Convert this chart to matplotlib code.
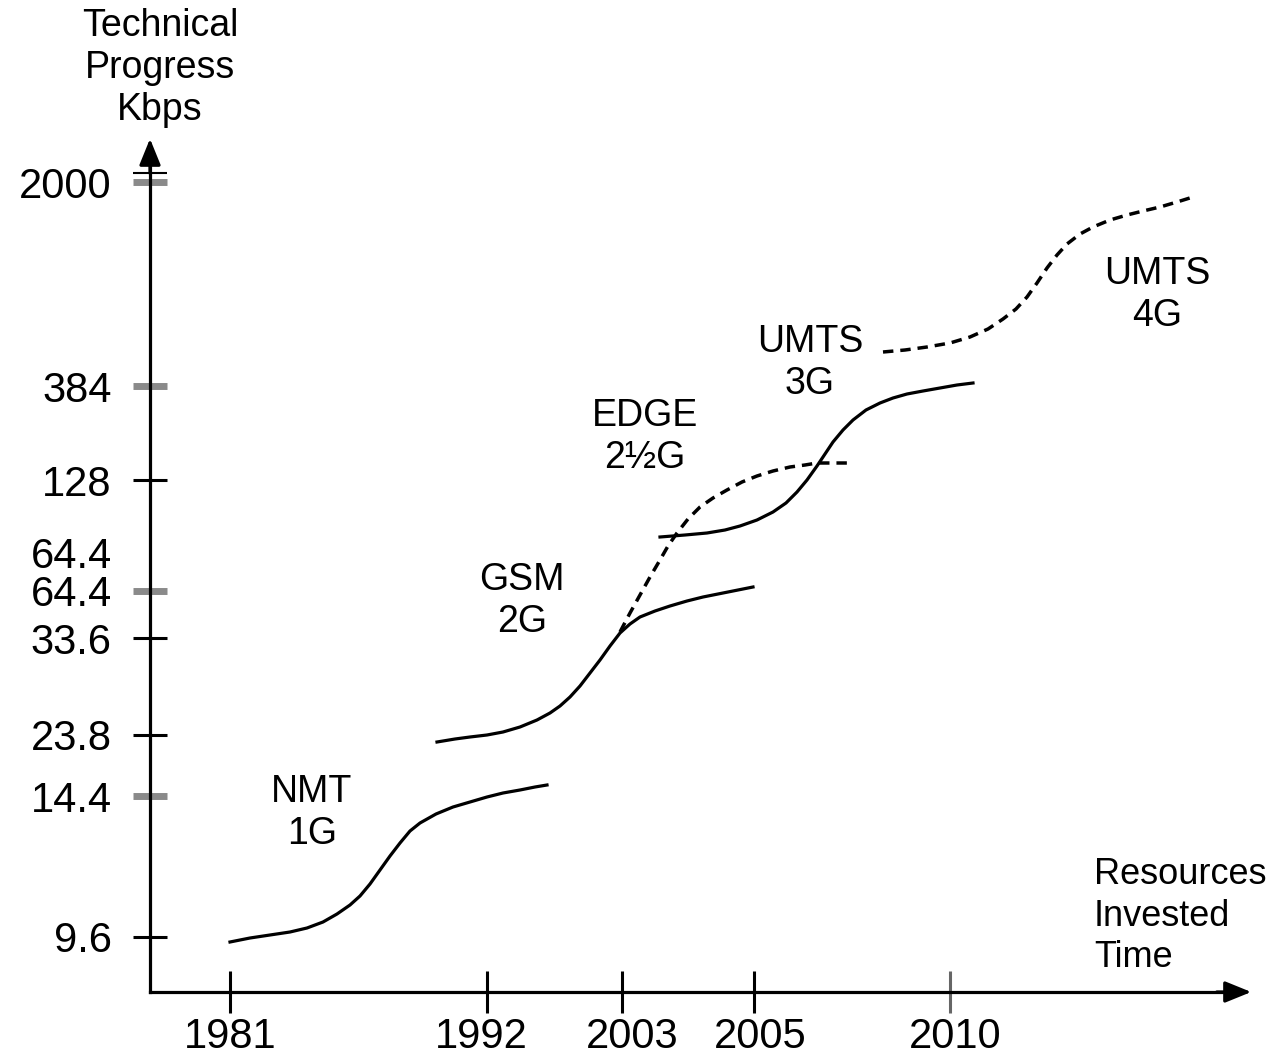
import matplotlib
matplotlib.use("Agg")
import matplotlib.pyplot as plt
from matplotlib.transforms import ScaledTranslation

# axis labels (positions in picture units, origin top-left)
y_labels = ["2000", "384", "128", "64.4", "64.4", "33.6", "23.8", "14.4", "9.6"]
y_pos = [182, 386, 480, 552, 591, 638, 735, 796, 937]
y_tick_colors = ["#8a8a8a", "#8a8a8a", "black", None, "#8a8a8a", "black", "black", "#8a8a8a", "black"]

x_labels = ["1981", "1992", "2003", "2005", "2010"]
x_pos = [230, 487, 622, 754, 950]
x_label_shift = [0, -6, 10, 6, 5]
x_tick_colors = ["black", "black", "black", "black", "#666666"]

# curves
nmt_x = [230, 250, 270, 290, 307, 323, 337, 350, 360, 370, 380, 390, 400, 410, 420, 436, 453, 470, 487, 503, 520, 535, 547]
nmt_y = [942, 938, 935, 932, 928, 922, 914, 905, 896, 884, 870, 856, 843, 831, 823, 814, 807, 802, 797, 793, 790, 787, 785]

gsm_x = [437, 455, 470, 487, 503, 520, 537, 550, 560, 570, 580, 590, 600, 610, 620, 630, 640, 655, 670, 687, 703, 728, 753]
gsm_y = [742, 739, 737, 735, 732, 727, 720, 713, 706, 697, 686, 673, 660, 646, 633, 624, 617, 611, 606, 601, 597, 592, 587]

edge_x = [620, 630, 640, 650, 660, 668, 677, 688, 700, 713, 727, 742, 757, 773, 790, 805, 817, 833, 850]
edge_y = [632, 613, 595, 577, 560, 546, 533, 519, 507, 498, 490, 482, 476, 471, 467, 465, 463, 463, 463]

umts3_x = [660, 685, 707, 725, 740, 757, 773, 786, 797, 807, 817, 825, 833, 843, 853, 866, 880, 893, 907, 923, 940, 957, 973]
umts3_y = [537, 535, 533, 530, 526, 520, 512, 503, 492, 480, 466, 454, 442, 430, 420, 410, 403, 398, 394, 391, 388, 385, 383]

umts4_x = [883, 905, 927, 950, 970, 988, 1003, 1016, 1027, 1037, 1047, 1057, 1067, 1080, 1093, 1110, 1127, 1143, 1160, 1177, 1193]
umts4_y = [352, 350, 347, 343, 337, 329, 319, 309, 297, 283, 268, 255, 244, 234, 227, 220, 215, 211, 207, 202, 197]

gen_labels = ["NMT\n1G", "GSM\n2G", "EDGE\n2½G", "UMTS\n3G", "UMTS\n4G"]
gen_label_x = [312, 522, 645, 810, 1157]
gen_label_y = [813, 601, 437, 363, 295]

plt.rcParams["font.family"] = ["Liberation Sans", "DejaVu Sans"]

fig = plt.figure(figsize=(12.68, 10.56), dpi=100)
ax = fig.add_axes([0, 0, 1, 1])
ax.set_xlim(0, 1268)
ax.set_ylim(1056, 0)
ax.patch.set_visible(False)

# axes through origin
for s in ["top", "right"]:
    ax.spines[s].set_visible(False)
ax.spines["left"].set_position(("data", 150))
ax.spines["bottom"].set_position(("data", 992))
ax.spines["left"].set_bounds(992, 160)
ax.spines["bottom"].set_bounds(150, 1230)
ax.spines["left"].set_linewidth(2.3)
ax.spines["bottom"].set_linewidth(2.3)

arrow = dict(arrowstyle="-|>,head_length=1.6,head_width=0.65", color="black", lw=2.3)
ax.annotate("", xy=(150, 136), xytext=(150, 176), arrowprops=arrow)
ax.annotate("", xy=(1254, 992), xytext=(1214, 992), arrowprops=arrow)

ax.set_yticks(y_pos, y_labels)
ax.set_xticks(x_pos, x_labels)
ax.tick_params(axis="y", direction="inout", length=25, width=2.2, pad=15, labelsize=30)
ax.tick_params(axis="x", direction="inout", length=30, width=2.2, pad=3, labelsize=30)
for t, c in zip(ax.yaxis.get_major_ticks(), y_tick_colors):
    if c is None:
        t.tick1line.set_visible(False)
    else:
        t.tick1line.set_markeredgecolor(c)
        if c != "black":
            t.tick1line.set_markeredgewidth(5)
for t, c in zip(ax.xaxis.get_major_ticks(), x_tick_colors):
    t.tick1line.set_markeredgecolor(c)
for lab, dx in zip(ax.get_xticklabels(), x_label_shift):
    lab.set_transform(lab.get_transform() + ScaledTranslation(dx / 100, 0, fig.dpi_scale_trans))

# thin line just above the 2000 tick
ax.set_yticks([173], minor=True)
ax.tick_params(axis="y", which="minor", direction="inout", length=25, width=1.5)

# curves
ax.plot(nmt_x, nmt_y, color="black", lw=2.3)
ax.plot(gsm_x, gsm_y, color="black", lw=2.3)
ax.plot(edge_x, edge_y, color="black", lw=2.5, dashes=(3, 2))
ax.plot(umts3_x, umts3_y, color="black", lw=2.3)
ax.plot(umts4_x, umts4_y, color="black", lw=2.5, dashes=(3, 2))

for lab, lx, ly in zip(gen_labels, gen_label_x, gen_label_y):
    ax.text(lx, ly, lab, ha="center", va="center", fontsize=27, linespacing=1.2)

ax.text(160, 68, "Technical\nProgress\nKbps", ha="center", va="center", fontsize=27, linespacing=1.2)
ax.text(1094, 916, "Resources\nInvested\nTime", ha="left", va="center", fontsize=26, linespacing=1.25)

fig.savefig("out.png", dpi=100)
